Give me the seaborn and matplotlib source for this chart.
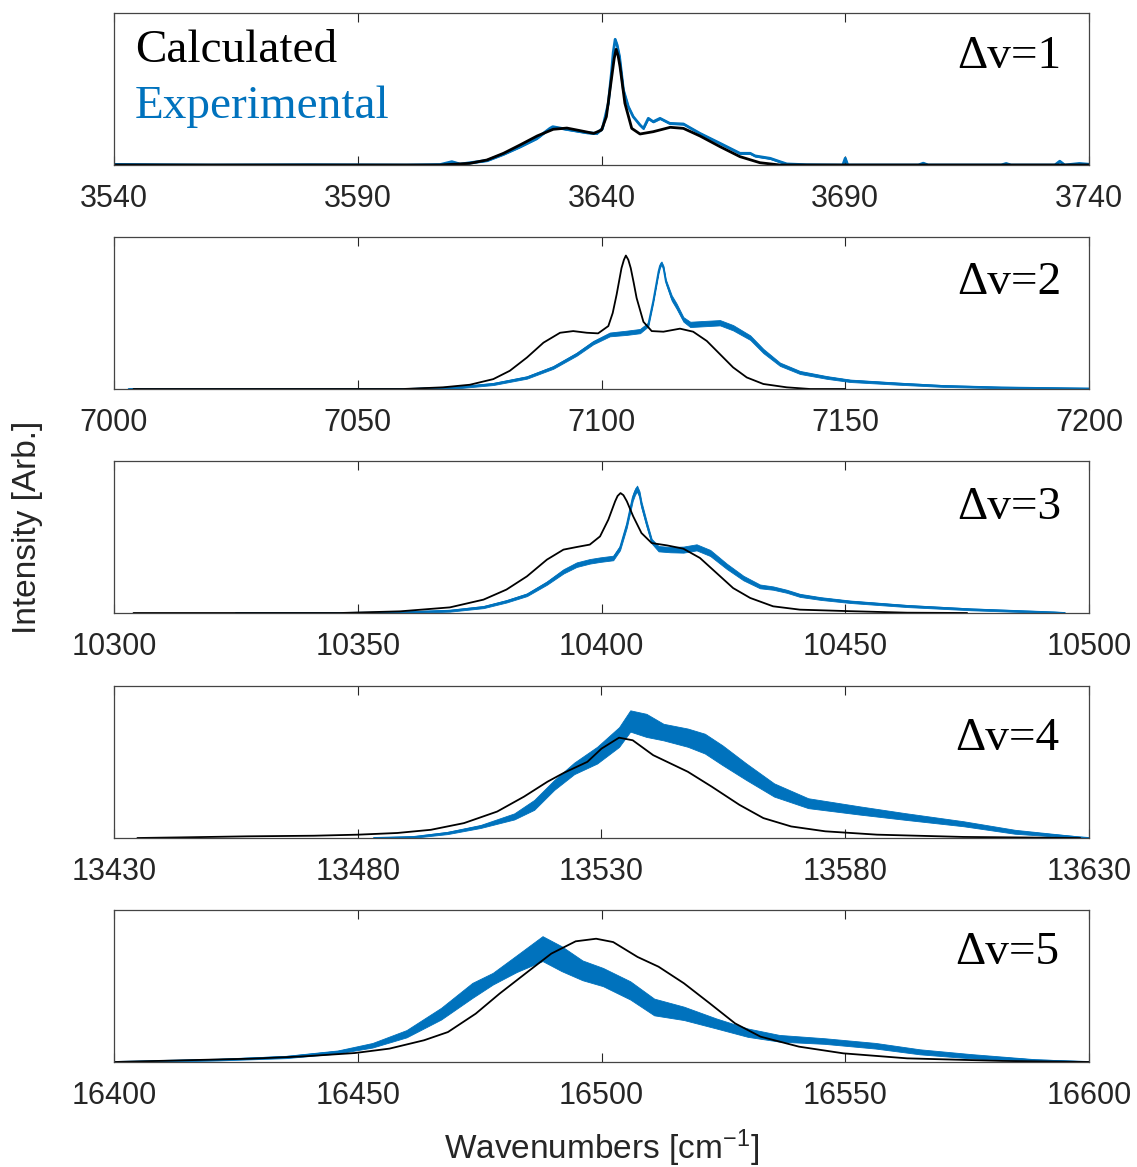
import numpy as np
import seaborn as sns
import matplotlib.pyplot as plt

# five overtone bands, each 200 cm-1 wide
x_starts = [3540, 7000, 10300, 13430, 16400]
band_labels = ["Δv=1", "Δv=2", "Δv=3", "Δv=4", "Δv=5"]

# ---- dv=1 ----
calc1_x = [3540, 3600, 3606.9, 3613, 3616.5, 3619.9, 3623.3, 3626.8, 3630.1, 3632.9, 3635.6, 3638.4, 3640, 3641,
           3642.1, 3642.6, 3643, 3643.4, 3643.8, 3644.8, 3646.2, 3647.9, 3650.6, 3654.1, 3656.8, 3660.2, 3664.3,
           3668.4, 3672.5, 3676.6, 3690, 3740]
calc1_y = [0, 0, 0, 0.011, 0.033, 0.077, 0.132, 0.191, 0.235, 0.243, 0.226, 0.208, 0.230, 0.318,
           0.581, 0.70, 0.761, 0.72, 0.647, 0.406, 0.241, 0.204, 0.219, 0.248, 0.241, 0.191, 0.121,
           0.055, 0.015, 0, 0, 0]
exp1_x = [3540, 3560, 3580, 3600, 3606.9, 3609.3, 3611, 3613, 3616.5, 3619.9, 3623.3, 3626.7, 3629.4, 3630,
          3632.9, 3637, 3639, 3640.2, 3641.4, 3642.1, 3642.4, 3642.8, 3643.2, 3643.7, 3644.5, 3645.5, 3646.5,
          3647.9, 3648.6, 3649.6, 3650.6, 3652, 3654, 3656.8, 3660.2, 3664.3, 3668.4, 3670.5, 3671.5, 3674.6,
          3676.6, 3678, 3682, 3689.5, 3690, 3690.5, 3705, 3706, 3707, 3722, 3723, 3724, 3733, 3734, 3735,
          3738, 3740]
exp1_y = [0.004, 0.0, 0.002, 0.0, 0.003, 0.022, 0.006, 0.015, 0.03, 0.072, 0.121, 0.175, 0.241, 0.252,
          0.235, 0.213, 0.208, 0.241, 0.406, 0.625, 0.74, 0.827, 0.79, 0.713, 0.493, 0.384, 0.318,
          0.263, 0.241, 0.307, 0.285, 0.307, 0.274, 0.27, 0.208, 0.143, 0.077, 0.077, 0.06, 0.044,
          0.022, 0.007, 0.002, 0.0, 0.045, 0.0, 0.0, 0.012, 0.0, 0.0, 0.01, 0.0, 0.0, 0.025, 0.0,
          0.01, 0.005]
exp1_w = [0.01] * len(exp1_x)

# ---- dv=2 ----
calc2_x = [7004, 7059.3, 7067.5, 7073, 7077.8, 7081.2, 7084.7, 7088.1, 7091.5, 7094.2, 7097, 7099.3, 7101.4,
           7102.3, 7103.1, 7104.1, 7104.6, 7105, 7105.5, 7106, 7106.6, 7107.2, 7108.6, 7110.3, 7112.7, 7116.1,
           7118.8, 7121.6, 7124.3, 7127, 7129.8, 7133.2, 7138, 7142.8, 7150]
calc2_y = [0, 0, 0.011, 0.028, 0.065, 0.12, 0.207, 0.305, 0.37, 0.381, 0.37, 0.366, 0.414,
           0.50, 0.621, 0.795, 0.85, 0.878, 0.85, 0.795, 0.70, 0.599, 0.442, 0.381, 0.377, 0.397,
           0.377, 0.316, 0.229, 0.142, 0.076, 0.033, 0.011, 0, 0]
exp2_x = [7003, 7060, 7070.6, 7077.8, 7084.7, 7090.1, 7094.9, 7098.3, 7101.7, 7105.2, 7107.9, 7109.6, 7110.6,
          7111.7, 7112.0, 7112.3, 7112.7, 7113.2, 7114.4, 7115.4, 7116.8, 7118.2, 7120.9, 7124.3, 7127, 7130.5,
          7133.2, 7136.6, 7140.7, 7146.2, 7151, 7161, 7170, 7182, 7200]
exp2_y = [0, 0, 0.011, 0.033, 0.076, 0.142, 0.229, 0.305, 0.359, 0.37, 0.381, 0.425, 0.577,
          0.773, 0.81, 0.828, 0.80, 0.708, 0.599, 0.545, 0.458, 0.425, 0.43, 0.436, 0.403, 0.338,
          0.25, 0.163, 0.109, 0.076, 0.054, 0.035, 0.02, 0.01, 0.003]
exp2_w = [0.01, 0.01, 0.012, 0.014, 0.016, 0.018, 0.02, 0.022, 0.025, 0.028, 0.028, 0.025, 0.022,
          0.022, 0.022, 0.022, 0.022, 0.025, 0.035, 0.035, 0.03, 0.035, 0.035, 0.035, 0.035, 0.03,
          0.028, 0.022, 0.02, 0.018, 0.016, 0.014, 0.012, 0.01, 0.01]

# ---- dv=3 ----
calc3_x = [10304, 10346.4, 10358.7, 10368.9, 10375.8, 10380.5, 10384.7, 10388.8, 10392.2, 10394.9, 10397.6,
           10399.7, 10401.4, 10402.8, 10403.3, 10403.9, 10404.5, 10405.2, 10406.5, 10408.2, 10410.3, 10413.4,
           10416.8, 10420.2, 10423.6, 10427, 10430.5, 10435.2, 10440.7, 10451, 10462.7, 10475]
calc3_y = [0, 0, 0.011, 0.037, 0.088, 0.154, 0.241, 0.351, 0.417, 0.434, 0.45,
           0.504, 0.614, 0.735, 0.77, 0.789, 0.775, 0.735, 0.636, 0.526, 0.46, 0.445,
           0.423, 0.362, 0.263, 0.164, 0.099, 0.044, 0.022, 0.012, 0.002, 0]
exp3_x = [10325, 10346, 10358.7, 10368.9, 10375.8, 10380.5, 10384.7, 10388.8, 10392.2, 10394.9, 10397.6,
          10399.7, 10402.4, 10403.8, 10405.2, 10406.4, 10406.9, 10407.3, 10407.8, 10408.2, 10409.3, 10410.3,
          10411.7, 10414.1, 10416.8, 10419.5, 10422.3, 10425.7, 10429.1, 10432.5, 10435.2, 10438, 10440.7,
          10445, 10451, 10462.7, 10475.8, 10492.8, 10495]
exp3_y = [0, 0.0, 0.004, 0.015, 0.039, 0.077, 0.12, 0.197, 0.274, 0.318, 0.34,
          0.351, 0.362, 0.428, 0.581, 0.757, 0.80, 0.818, 0.78, 0.712, 0.581, 0.472,
          0.423, 0.417, 0.417, 0.432, 0.395, 0.307, 0.23, 0.175, 0.164, 0.143, 0.116,
          0.095, 0.074, 0.046, 0.024, 0.004, 0.0]
exp3_w = [0.01, 0.01, 0.01, 0.012, 0.014, 0.016, 0.018, 0.022, 0.028, 0.03, 0.03,
          0.03, 0.03, 0.03, 0.035, 0.04, 0.04, 0.04, 0.04, 0.04, 0.035, 0.03,
          0.035, 0.035, 0.04, 0.04, 0.04, 0.035, 0.03, 0.025, 0.022, 0.02, 0.02,
          0.018, 0.016, 0.014, 0.012, 0.01, 0.01]

# ---- dv=4 ----
calc4_x = [13434.8, 13443.7, 13457.4, 13471, 13480.1, 13488.1, 13495, 13501.8, 13508.6, 13514.1, 13518.9,
           13522.3, 13527.1, 13530, 13533.6, 13536.4, 13540.6, 13547.7, 13552.6, 13558.3, 13563.2, 13568.9,
           13575.9, 13586.5, 13604.2, 13628.2]
calc4_y = [0, 0.004, 0.011, 0.015, 0.022, 0.033, 0.054, 0.098, 0.174, 0.272, 0.37,
           0.429, 0.501, 0.588, 0.66, 0.643, 0.545, 0.436, 0.338, 0.218, 0.131, 0.076,
           0.044, 0.022, 0.007, 0]
exp4_x = [13483.3, 13491.5, 13498.4, 13505.2, 13512.1, 13516.2, 13520.3, 13524.4, 13529.1, 13533.6, 13535.9,
          13539.2, 13542.7, 13547.7, 13551.2, 13554.8, 13559.7, 13565.4, 13572.4, 13583, 13592.2, 13604.2,
          13614.8, 13628.2, 13630]
exp4_y = [0, 0.007, 0.033, 0.076, 0.142, 0.218, 0.349, 0.458, 0.545, 0.664, 0.77,
          0.741, 0.697, 0.66, 0.621, 0.545, 0.436, 0.316, 0.229, 0.181, 0.142, 0.094,
          0.041, 0.004, 0]
exp4_w = [0.008, 0.01, 0.015, 0.02, 0.04, 0.065, 0.065, 0.076, 0.11, 0.13, 0.14,
          0.152, 0.109, 0.12, 0.13, 0.13, 0.109, 0.087, 0.065, 0.054, 0.044, 0.033,
          0.026, 0.01, 0.008]

# ---- dv=5 ----
calc5_x = [16400, 16414.1, 16428.3, 16438.9, 16449.4, 16456.5, 16463.6, 16468.5, 16474.2, 16479.1, 16484.8,
           16489.7, 16494.7, 16498.9, 16502.4, 16507.4, 16511.7, 16516.9, 16522.2, 16527.4, 16532.6, 16540.5,
           16549.6, 16562.7, 16582.3, 16600]
calc5_y = [0, 0.011, 0.022, 0.037, 0.059, 0.088, 0.143, 0.197, 0.318, 0.45, 0.592,
           0.713, 0.794, 0.811, 0.789, 0.691, 0.627, 0.518, 0.386, 0.254, 0.167, 0.101,
           0.057, 0.024, 0.007, 0]
exp5_x = [16400, 16421.2, 16435.3, 16445.9, 16453, 16460, 16467.1, 16473.5, 16477.7, 16482.6, 16487.9,
          16491.8, 16496.1, 16500.3, 16505.9, 16510.8, 16516.9, 16523.5, 16530, 16536.5, 16545.7, 16556.2,
          16565.3, 16575.8, 16588.9, 16600]
exp5_y = [0, 0.015, 0.033, 0.066, 0.11, 0.186, 0.318, 0.471, 0.548, 0.647, 0.746,
          0.68, 0.603, 0.559, 0.471, 0.362, 0.32, 0.254, 0.193, 0.156, 0.138, 0.107,
          0.067, 0.038, 0.011, 0]
exp5_w = [0.008, 0.01, 0.015, 0.02, 0.03, 0.048, 0.077, 0.099, 0.077, 0.11, 0.164,
          0.164, 0.13, 0.12, 0.12, 0.11, 0.088, 0.066, 0.055, 0.044, 0.037, 0.037,
          0.033, 0.028, 0.015, 0.008]

calc_x = [calc1_x, calc2_x, calc3_x, calc4_x, calc5_x]
calc_y = [calc1_y, calc2_y, calc3_y, calc4_y, calc5_y]
exp_x = [exp1_x, exp2_x, exp3_x, exp4_x, exp5_x]
exp_y = [exp1_y, exp2_y, exp3_y, exp4_y, exp5_y]
exp_w = [exp1_w, exp2_w, exp3_w, exp4_w, exp5_w]

sns.set_style("ticks")
plt.rcParams['font.family'] = ['Liberation Sans', 'DejaVu Sans']
plt.rcParams['mathtext.default'] = 'regular'

blue = "#0072BD"
dark = "#262626"

W, H = 1137, 1167
fig = plt.figure(figsize=(W / 100, H / 100), dpi=100)

bottom_px = [165, 389, 613, 838, 1062]
label_y = [0.638, 0.625, 0.618, 0.579, 0.645]
label_x = [0.972, 0.972, 0.972, 0.970, 0.970]

for i in range(5):
    ax = fig.add_axes([114 / W, 1 - bottom_px[i] / H, 975 / W, 152 / H])
    lw = 2.0 if i == 0 else 1.3

    ey = np.array(exp_y[i])
    ew = np.array(exp_w[i])
    ax.fill_between(exp_x[i], ey - ew / 2, ey + ew / 2, color=blue, lw=0.6, edgecolor=blue,
                    joinstyle="round")
    sns.lineplot(x=exp_x[i], y=exp_y[i], ax=ax, color=blue, lw=lw, sort=False, estimator=None,
                 solid_joinstyle="round")
    sns.lineplot(x=calc_x[i], y=calc_y[i], ax=ax, color="black", lw=lw, sort=False, estimator=None,
                 solid_joinstyle="round")

    x0 = x_starts[i]
    ax.set_xlim(x0, x0 + 200)
    ax.set_ylim(0, 1)
    ax.set_xticks(range(x0, x0 + 201, 50))
    ax.set_yticks([])
    ax.set_xlabel("")
    ax.set_ylabel("")
    ax.tick_params(axis="x", direction="in", top=True, bottom=True, length=6.5, width=0.8,
                   color=dark, labelsize=22, labelcolor=dark, pad=13.5)
    for s in ax.spines.values():
        s.set_visible(True)
        s.set_linewidth(0.9)
        s.set_color("#444444")

    ax.text(label_x[i], label_y[i], band_labels[i], transform=ax.transAxes, ha="right", va="baseline",
            fontsize=34, family="Liberation Serif", color="black")

    if i == 0:
        ax.text(0.0215, 0.678, "Calculated", transform=ax.transAxes, ha="left", va="baseline",
                fontsize=34, family="Liberation Serif", color="black")
        ax.text(0.0215, 0.309, "Experimental", transform=ax.transAxes, ha="left", va="baseline",
                fontsize=34, family="Liberation Serif", color=blue)

fig.text(601.5 / W, 1 - 1148 / H, "Wavenumbers [cm$^{-1}$]", ha="center", va="center", fontsize=24, color=dark)
fig.text(28 / W, 1 - 527 / H, "Intensity [Arb.]", ha="center", va="center", rotation=90, fontsize=24, color=dark)

fig.savefig("out.png", dpi=100)
